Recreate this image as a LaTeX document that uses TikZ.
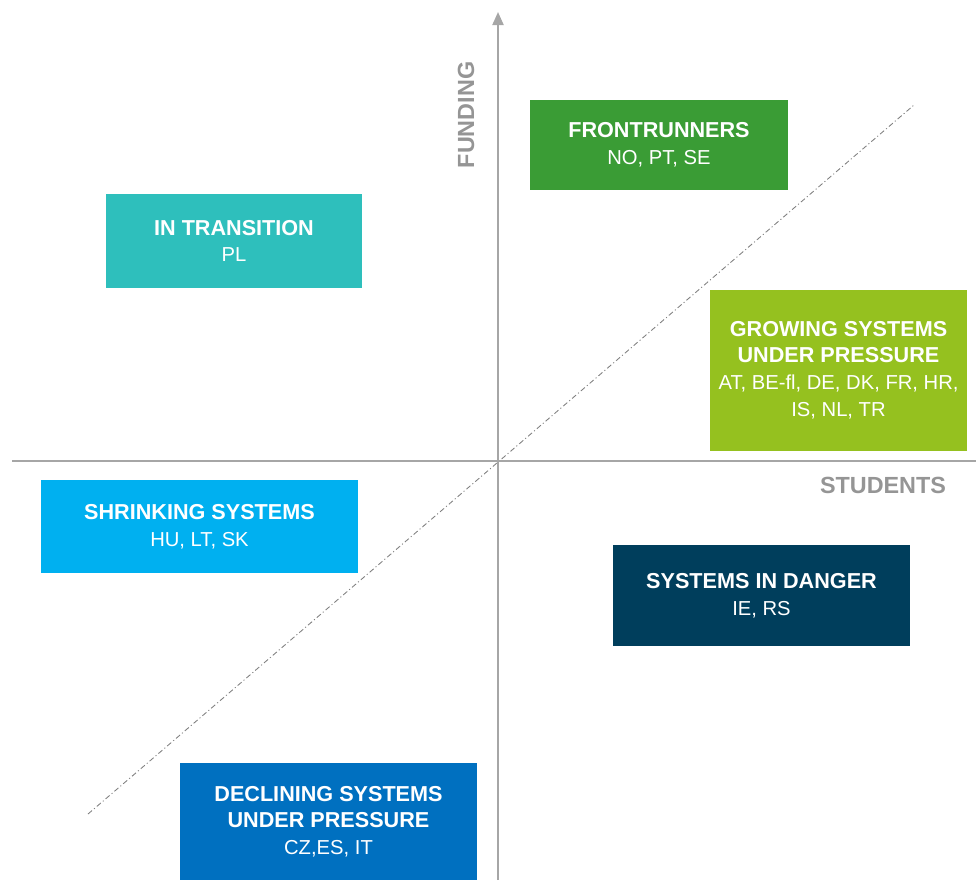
\documentclass[tikz,border=0pt]{standalone}
\usepackage{fontspec}
\setmainfont{Liberation Sans}
\usepackage{xcolor}
\usetikzlibrary{arrows.meta}

\definecolor{frontgreen}{HTML}{3A9C35}
\definecolor{transteal}{HTML}{2EBFBC}
\definecolor{growlime}{HTML}{95C11F}
\definecolor{shrinkblue}{HTML}{00B0F0}
\definecolor{dangernavy}{HTML}{003E5C}
\definecolor{declineblue}{HTML}{0070C0}
\definecolor{axisgrey}{HTML}{A6A6A6}

% country codes are set a little smaller than the group titles
\newcommand{\members}[1]{{\fontsize{11.5}{15.2}\selectfont #1}}

\begin{document}
\begin{tikzpicture}[
    x=0.2mm, y=-0.2mm,
    quad/.style={inner sep=0pt, align=center, text=white,
                 font=\fontsize{12.3}{15.2}\selectfont},
    axis/.style={draw=axisgrey, line width=1.1pt, -{Triangle[length=2.6mm, width=2.2mm]}},
    axislabel/.style={text=axisgrey!90!black, font=\fontsize{13.3}{16}\selectfont\bfseries},
    trend/.style={draw=gray, line width=0.5pt, dash pattern=on 3pt off 1.5pt on 0.6pt off 1.5pt}
]
\useasboundingbox (0,0) rectangle (976,880);

% axes and diagonal
\coordinate (fundlow) at (498,880);
\coordinate (fundtop) at (498,12);
\coordinate (studleft) at (12,461);
\coordinate (studright) at (990,461);
\coordinate (diaglow) at (88,814);
\coordinate (diaghigh) at (914,105);

\draw[trend] (diaglow) -- (diaghigh);
\draw[axis] (fundlow) -- (fundtop);
\draw[axis] (studleft) -- (studright);

\node[axislabel, rotate=90] (funding) at (466,115) {FUNDING};
\node[axislabel] (students) at (883,485) {STUDENTS};

% the six groups
\node[quad, fill=frontgreen, minimum width=51.6mm, minimum height=18mm] (front) at (659,145)
    {\textbf{FRONTRUNNERS}\\\members{NO, PT, SE}};
\node[quad, fill=transteal, minimum width=51.2mm, minimum height=18.8mm] (trans) at (234,241)
    {\textbf{IN TRANSITION}\\\members{PL}};
\node[quad, fill=growlime, minimum width=51.4mm, minimum height=32.2mm] (grow) at (838.5,370)
    {\textbf{GROWING SYSTEMS}\\\textbf{UNDER PRESSURE}\\\members{AT, BE-fl, DE, DK, FR, HR,}\\\members{IS, NL, TR}};
\node[quad, fill=shrinkblue, minimum width=63.4mm, minimum height=18.6mm] (shrink) at (199.5,526.5)
    {\textbf{SHRINKING SYSTEMS}\\\members{HU, LT, SK}};
\node[quad, fill=dangernavy, minimum width=59.4mm, minimum height=20.2mm] (danger) at (761.5,595.5)
    {\textbf{SYSTEMS IN DANGER}\\\members{IE, RS}};
\node[quad, fill=declineblue, minimum width=59.4mm, minimum height=23.4mm] (decline) at (328.5,821.5)
    {\textbf{DECLINING SYSTEMS}\\\textbf{UNDER PRESSURE}\\\members{CZ,ES, IT}};
\end{tikzpicture}
\end{document}
